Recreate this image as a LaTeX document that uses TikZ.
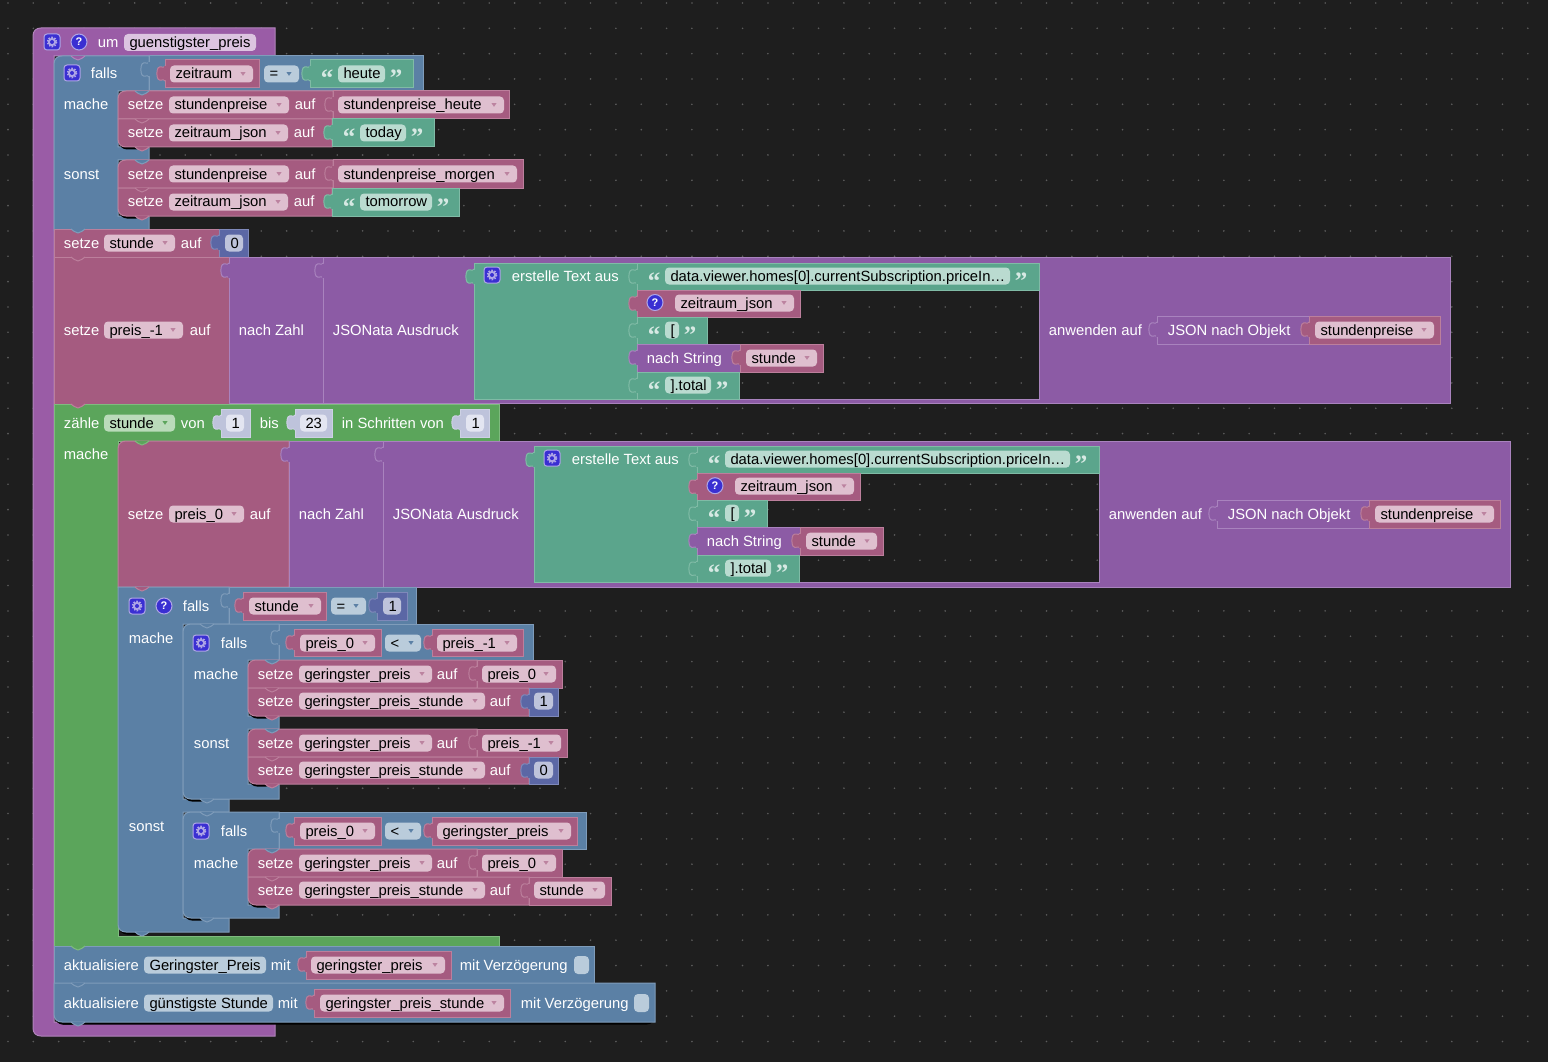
\documentclass[tikz,border=0pt]{standalone}
\usepackage{fontspec}
\setmainfont{Liberation Sans}
\newfontfamily\quotefont{Liberation Serif}
\usepackage{xcolor}
\definecolor{bgcol}{HTML}{1E1E1E}
\definecolor{dotcol}{HTML}{5C5C5C}
\definecolor{proccol}{HTML}{9A5CA6}
\definecolor{procedge}{HTML}{B285BC}
\definecolor{procfld}{HTML}{DCC4E0}
\definecolor{logiccol}{HTML}{5B80A5}
\definecolor{logicedge}{HTML}{7F9CBA}
\definecolor{logicfld}{HTML}{BACCDB}
\definecolor{varcol}{HTML}{A55B80}
\definecolor{varedge}{HTML}{BC7F9C}
\definecolor{varfld}{HTML}{DFBFCF}
\definecolor{textcol}{HTML}{5BA58C}
\definecolor{textedge}{HTML}{80BBA6}
\definecolor{textfld}{HTML}{BADBD0}
\definecolor{loopcol}{HTML}{5BA55B}
\definecolor{loopedge}{HTML}{7FBB7F}
\definecolor{loopfld}{HTML}{BADBBA}
\definecolor{numcol}{HTML}{5B67A5}
\definecolor{numedge}{HTML}{7F89BA}
\definecolor{numfld}{HTML}{BEC3DB}
\definecolor{shadcol}{HTML}{BEC3DB}
\definecolor{shadedge}{HTML}{CDD1E4}
\definecolor{shadfld}{HTML}{E3E5F1}
\definecolor{convcol}{HTML}{8C5BA5}
\definecolor{convedge}{HTML}{A983BE}
\definecolor{iconcol}{HTML}{3A2FD2}
\definecolor{iconedge}{HTML}{AFA6E6}
\tikzset{
procblk/.style={fill=proccol,draw=procedge},
logicblk/.style={fill=logiccol,draw=logicedge},
varblk/.style={fill=varcol,draw=varedge},
textblk/.style={fill=textcol,draw=textedge},
loopblk/.style={fill=loopcol,draw=loopedge},
numblk/.style={fill=numcol,draw=numedge},
shadblk/.style={fill=shadcol,draw=shadedge},
convblk/.style={fill=convcol,draw=convedge},
lbl/.style={anchor=base west,inner sep=0pt,text=white,font=\fontsize{14.8}{16}\selectfont},
fldtxt/.style={lbl,text=black},
fldbox/.style={rounded corners=4pt,inner sep=0pt,minimum height=17pt},
iconbox/.style={rounded corners=3pt,fill=iconcol,draw=iconedge,inner sep=0pt,minimum size=16pt},
helpbox/.style={circle,fill=iconcol,draw=iconedge,inner sep=0pt,minimum size=16pt,text=white,font=\fontsize{11}{12}\selectfont\bfseries},
quot/.style={anchor=base,inner sep=0pt,text=textfld!60!white,font=\quotefont\fontsize{25}{26}\selectfont\bfseries}
}
\newcounter{lbln}
\newcommand{\blk}[5]{\draw[#1](#2,#3)rectangle(#4,#5);}
\newcommand{\puzzle}[3]{\draw[#1]({#2},{#3+6})..controls({#2-1},{#3+9})and({#2-5},{#3+5})..({#2-7},{#3+8})
..controls({#2-8.5},{#3+10.5})and({#2-8.5},{#3+16.5})..({#2-7},{#3+19})
..controls({#2-5},{#3+22})and({#2-1},{#3+18})..({#2},{#3+21});
\fill[#1,draw=none]({#2-1},{#3+6.5})rectangle({#2+0.8},{#3+20.5});}
\newcommand{\vblk}[5]{\blk{#1}{#2}{#3}{#4}{#5}\puzzle{#1}{#2}{#3}}
\newcommand{\bump}[3]{\draw[#1]({#2+17},{#3})..controls({#2+19},{#3+1})and({#2+21},{#3+4})..({#2+24},{#3+4})
..controls({#2+27},{#3+4})and({#2+29},{#3+1})..({#2+31},{#3});}
\newcommand{\topblk}[5]{\draw[#1](#4,#3)--(#4,#5)--(#2,#5)--({#2},{#3+8})..controls({#2},{#3+3})and({#2+3},{#3})..({#2+8},{#3})--cycle;}
\newcommand{\shadowl}[3]{\fill[black,rounded corners=8pt]({#1+1},{#2-12})rectangle(#3,{#2+2.5});}
\newcommand{\botblk}[5]{\shadowl{#2}{#5}{#2+26}
\draw[#1](#4,#5)--(#4,#3)--(#2,#3)--({#2},{#5-8})..controls({#2},{#5-3})and({#2+3},{#5})..({#2+8},{#5})--cycle;}
\newcommand{\txt}[3]{\stepcounter{lbln}\node[lbl](lbl\arabic{lbln})at({#1-0.6},{#2+5}){#3};}
\newcommand{\fld}[6]{\stepcounter{lbln}\node[fldbox,fill=#1,minimum width={(#4-#3)*1pt}](box\arabic{lbln})at({(#3+#4)/2},#5){};
\node[fldtxt](fld\arabic{lbln})at({#3+5},{#5+5}){#6};
\ifx\relax#2\relax\else\fill[#2]({#4-12.5},{#5-1.8})--({#4-7.5},{#5-1.8})--({#4-10},{#5+1.8})--cycle;\fi}
\newcommand{\fv}[4]{\fld{varfld}{varcol!60!varfld}{#1}{#2}{#3}{#4}}
\newcommand{\fs}[4]{\fld{textfld}{}{#1}{#2}{#3}{#4}}
\newcommand{\fo}[4]{\fld{logicfld}{logiccol}{#1}{#2}{#3}{#4}}
\newcommand{\fn}[4]{\fld{numfld}{}{#1}{#2}{#3}{#4}}
\newcommand{\fm}[4]{\fld{shadfld}{}{#1}{#2}{#3}{#4}}
\newcommand{\fl}[4]{\fld{loopfld}{loopcol}{#1}{#2}{#3}{#4}}
\newcommand{\fb}[4]{\fld{logicfld}{}{#1}{#2}{#3}{#4}}
\newcommand{\strf}[4]{\node[quot]at({#1-11},{#3+13}){“};\fs{#1}{#2}{#3}{#4}\node[quot]at({#2+11},{#3+13}){”};}
\newcommand{\gear}[2]{\stepcounter{lbln}\node[iconbox](gear\arabic{lbln})at(#1,#2){};
\draw[iconedge,line width=2pt,dash pattern=on 1.4pt off 1.4pt](#1,#2)circle[radius=4.4];
\fill[iconedge](#1,#2)circle[radius=4.2];\fill[iconcol](#1,#2)circle[radius=2];}
\newcommand{\helpq}[2]{\stepcounter{lbln}\node[helpbox](help\arabic{lbln})at(#1,#2){?};}
\newcommand{\chk}[2]{\stepcounter{lbln}\node[fldbox,fill=logicfld,minimum width=15pt,minimum height=18pt](chk\arabic{lbln})at(#1,#2){};}
\newcommand{\jsonata}[1]{
\vblk{convblk}{229}{257}{323}{403.5}
\draw[convblk,even odd rule](323,257)rectangle(1450,403.5)(474,{263+#1})rectangle(1039,{399+#1});
\puzzle{convblk}{323}{257}
\txt{239}{330}{nach Zahl}
\txt{333}{330}{JSONata Ausdruck}
\begin{scope}[shift={(0,#1)}]
\vblk{textblk}{474}{263}{637}{399}
\gear{492}{275}
\txt{512}{276}{erstelle Text aus}
\vblk{textblk}{637}{263}{1039}{290}
\strf{665}{1010}{276}{data.viewer.homes[0].currentSubscription.priceIn…}
\vblk{varblk}{637}{290}{800}{317}
\helpq{655}{302.5}
\fv{675}{794}{303}{zeitraum\_json}
\vblk{textblk}{637}{317}{707}{344}
\strf{665}{679}{330}{[}
\vblk{convblk}{637}{344}{740}{372}
\txt{647}{358}{nach String}
\vblk{varblk}{740}{344}{823}{372}
\fv{746}{817}{358}{stunde}
\vblk{textblk}{637}{372}{739}{399}
\strf{665}{711}{385}{].total}
\end{scope}
\txt{1049}{330}{anwenden auf}
\vblk{convblk}{1157}{316}{1309}{344}
\txt{1168}{330}{JSON nach Objekt}
\vblk{varblk}{1309}{316}{1440}{344}
\fv{1315}{1434}{330}{stundenpreise}
}
\begin{document}
\begin{tikzpicture}[x=1pt,y=-1pt,line width=1pt]
\useasboundingbox(0,0)rectangle(1548,1062);
\fill[bgcol](0,0)rectangle(1548,1062);
\foreach \i in {0,...,60}
\foreach \j in {0,...,41}
\fill[dotcol]({8+25.33*\i},{3+25.33*\j})circle[radius=0.9];
\draw[procblk](275,28)--(275,56)--(54,56)--(54,1022)--(275,1022)--(275,1036)--(41,1036)..controls(36,1036)and(33,1033)..(33,1028)--(33,36)..controls(33,31)and(36,28)..(41,28)--cycle;
\gear{52}{42}
\helpq{79}{42}
\txt{98}{43}{um}
\fld{procfld}{}{124}{256}{42.5}{guenstigster\_preis}
\draw[logicblk](149,56)--(149,91)--(118,91)--(118,147)--(149,147)--(149,160)--(118,160)--(118,216)--(149,216)--(149,230)--(54,230)--(54,64)..controls(54,59)and(57,56)..(62,56)--cycle;
\bump{procblk}{54}{56}
\gear{72}{73}
\txt{91}{74}{falls}
\txt{64}{105}{mache}
\txt{64}{174}{sonst}
\vblk{logicblk}{149}{56}{423}{91}
\vblk{varblk}{165}{60}{259}{88}
\fv{170}{253}{74}{zeitraum}
\fo{264}{299}{74}{=}
\vblk{textblk}{310}{60}{413}{88}
\strf{338}{385}{74}{heute}
\topblk{varblk}{118}{91}{333}{119}
\bump{logicblk}{118}{91}
\txt{128}{105}{setze}
\fv{169}{289}{105}{stundenpreise}
\txt{295}{105}{auf}
\vblk{varblk}{333}{91}{509}{119}
\fv{338}{504}{105}{stundenpreise\_heute}
\botblk{varblk}{118}{119}{332}{147}
\bump{varblk}{118}{119}
\bump{varblk}{118}{147}
\txt{128}{133}{setze}
\fv{169}{288}{133}{zeitraum\_json}
\txt{294}{133}{auf}
\vblk{textblk}{332}{119}{434}{147}
\strf{360}{406}{133}{today}
\topblk{varblk}{118}{160}{333}{188}
\bump{logicblk}{118}{160}
\txt{128}{174}{setze}
\fv{169}{289}{174}{stundenpreise}
\txt{295}{174}{auf}
\vblk{varblk}{333}{160}{523}{188}
\fv{338}{517}{174}{stundenpreise\_morgen}
\botblk{varblk}{118}{188}{332}{216}
\bump{varblk}{118}{188}
\bump{varblk}{118}{216}
\txt{128}{202}{setze}
\fv{169}{288}{202}{zeitraum\_json}
\txt{294}{202}{auf}
\vblk{textblk}{332}{188}{459}{216}
\strf{360}{432}{202}{tomorrow}
\blk{varblk}{54}{229}{219}{257}
\bump{logicblk}{54}{229}
\txt{64}{243}{setze}
\fv{104}{175}{243}{stunde}
\txt{181}{243}{auf}
\vblk{numblk}{219}{229}{248}{257}
\fn{225}{243}{243}{0}
\blk{varblk}{54}{257}{229}{404}
\bump{varblk}{54}{257}
\txt{64}{330}{setze}
\fv{104}{183}{330}{preis\_-1}
\txt{190}{330}{auf}
\jsonata{0}
\draw[loopblk](499,404)--(499,441)--(118,441)--(118,936)--(499,936)--(499,946)--(54,946)--(54,404)--cycle;
\bump{varblk}{54}{404}
\txt{64}{423}{zähle}
\fl{104}{175}{423}{stunde}
\txt{181}{423}{von}
\vblk{shadblk}{221}{409}{250}{437}
\fm{226}{244}{423}{1}
\txt{260}{423}{bis}
\vblk{shadblk}{295}{409}{332}{437}
\fm{300}{327}{423}{23}
\txt{342}{423}{in Schritten von}
\vblk{shadblk}{460}{409}{489}{437}
\fm{466}{484}{423}{1}
\txt{64}{454}{mache}
\topblk{varblk}{118}{441}{289}{587}
\bump{loopblk}{118}{441}
\txt{128}{514}{setze}
\fv{169}{244}{514}{preis\_0}
\txt{250}{514}{auf}
\begin{scope}[shift={(60,184)}]
\jsonata{-0.8}
\end{scope}
\shadowl{118}{932}{144}
\draw[logicblk](229,587)--(229,624)--(183,624)--(183,799)--(229,799)--(229,812)--(183,812)--(183,918)--(229,918)--(229,932)--(126,932)..controls(121,932)and(118,929)..(118,924)--(118,587)--cycle;
\bump{varblk}{118}{587}
\bump{logicblk}{118}{932}
\gear{137}{606}
\helpq{164}{606}
\txt{183}{606}{falls}
\txt{129}{638}{mache}
\txt{129}{826}{sonst}
\vblk{logicblk}{229}{587}{416}{624}
\vblk{varblk}{243}{592}{326}{620}
\fv{249}{321}{606}{stunde}
\fo{331}{366}{606}{=}
\vblk{numblk}{377}{592}{407}{620}
\fn{383}{401}{606}{1}
\shadowl{183}{799}{209}
\draw[logicblk](279,624)--(279,660)--(248,660)--(248,716)--(279,716)--(279,729)--(248,729)--(248,784)--(279,784)--(279,799)--(191,799)..controls(186,799)and(183,796)..(183,791)--(183,632)..controls(183,627)and(186,624)..(191,624)--cycle;
\bump{logicblk}{183}{624}
\bump{logicblk}{183}{799}
\gear{201}{643}
\txt{221}{643}{falls}
\txt{194}{674}{mache}
\txt{194}{743}{sonst}
\vblk{logicblk}{279}{624}{533}{660}
\vblk{varblk}{294}{629}{381}{656}
\fv{300}{375}{643}{preis\_0}
\fo{385}{421}{643}{<}
\vblk{varblk}{432}{629}{523}{656}
\fv{437}{517}{643}{preis\_-1}
\topblk{varblk}{248}{660}{477}{688}
\bump{logicblk}{248}{660}
\txt{258}{674}{setze}
\fv{299}{432}{674}{geringster\_preis}
\txt{437}{674}{auf}
\vblk{varblk}{477}{660}{562}{688}
\fv{482}{556}{674}{preis\_0}
\botblk{varblk}{248}{688}{529}{716}
\bump{varblk}{248}{688}
\bump{varblk}{248}{716}
\txt{258}{701}{setze}
\fv{299}{485}{701}{geringster\_preis\_stunde}
\txt{490}{701}{auf}
\vblk{numblk}{529}{688}{558}{716}
\fn{534}{553}{701}{1}
\topblk{varblk}{248}{729}{477}{757}
\bump{logicblk}{248}{729}
\txt{258}{743}{setze}
\fv{299}{432}{743}{geringster\_preis}
\txt{437}{743}{auf}
\vblk{varblk}{477}{729}{567}{757}
\fv{482}{561}{743}{preis\_-1}
\botblk{varblk}{248}{757}{529}{784}
\bump{varblk}{248}{757}
\bump{varblk}{248}{784}
\txt{258}{770}{setze}
\fv{299}{485}{770}{geringster\_preis\_stunde}
\txt{490}{770}{auf}
\vblk{numblk}{529}{757}{558}{784}
\fn{534}{553}{770}{0}
\shadowl{183}{918}{209}
\draw[logicblk](279,812)--(279,849)--(248,849)--(248,905)--(279,905)--(279,918)--(191,918)..controls(186,918)and(183,915)..(183,910)--(183,820)..controls(183,815)and(186,812)..(191,812)--cycle;
\bump{logicblk}{183}{812}
\bump{logicblk}{183}{918}
\gear{201}{831}
\txt{221}{831}{falls}
\txt{194}{863}{mache}
\vblk{logicblk}{279}{812}{586}{849}
\vblk{varblk}{294}{817}{381}{845}
\fv{300}{375}{831}{preis\_0}
\fo{385}{421}{831}{<}
\vblk{varblk}{432}{817}{577}{845}
\fv{437}{571}{831}{geringster\_preis}
\topblk{varblk}{248}{849}{477}{877}
\bump{logicblk}{248}{849}
\txt{258}{863}{setze}
\fv{299}{432}{863}{geringster\_preis}
\txt{437}{863}{auf}
\vblk{varblk}{477}{849}{562}{877}
\fv{482}{556}{863}{preis\_0}
\botblk{varblk}{248}{877}{529}{905}
\bump{varblk}{248}{877}
\bump{varblk}{248}{905}
\txt{258}{890}{setze}
\fv{299}{485}{890}{geringster\_preis\_stunde}
\txt{490}{890}{auf}
\vblk{varblk}{529}{877}{611}{905}
\fv{534}{605}{890}{stunde}
\blk{logicblk}{54}{946}{594}{983}
\bump{loopblk}{54}{946}
\txt{64}{965}{aktualisiere}
\fb{144}{266}{965}{Geringster\_Preis}
\txt{271}{965}{mit}
\vblk{varblk}{306}{951}{451}{979}
\fv{311}{445}{965}{geringster\_preis}
\txt{460}{965}{mit Verzögerung}
\chk{581.5}{965}
\shadowl{54}{1022}{655}
\botblk{logicblk}{54}{983}{655}{1022}
\bump{logicblk}{54}{983}
\bump{logicblk}{54}{1022}
\txt{64}{1003}{aktualisiere}
\fb{144}{273}{1003}{günstigste Stunde}
\txt{278}{1003}{mit}
\vblk{varblk}{314}{989}{510}{1017}
\fv{320}{504}{1003}{geringster\_preis\_stunde}
\txt{521}{1003}{mit Verzögerung}
\chk{641.5}{1003}
\end{tikzpicture}
\end{document}
